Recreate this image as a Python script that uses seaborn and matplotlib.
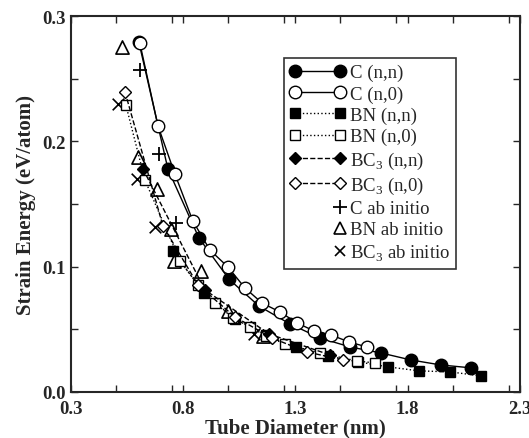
import numpy as np
import pandas as pd
import matplotlib
matplotlib.use("Agg")
import matplotlib.pyplot as plt
from matplotlib.lines import Line2D
from matplotlib.ticker import MultipleLocator
import seaborn as sns

# Werte
c_nn_d = [0.603, 0.732, 0.870, 1.004, 1.137, 1.275, 1.409, 1.543, 1.681, 1.814, 1.948, 2.082]
c_nn_e = [0.279, 0.178, 0.123, 0.090, 0.0686, 0.0543, 0.0431, 0.0359, 0.0311, 0.0255, 0.0215, 0.0192]

c_n0_d = [0.607, 0.688, 0.763, 0.843, 0.919, 0.999, 1.075, 1.151, 1.231, 1.307, 1.382, 1.458, 1.538, 1.618]
c_n0_e = [0.2785, 0.2123, 0.174, 0.1365, 0.1133, 0.0998, 0.083, 0.071, 0.0638, 0.0551, 0.0487, 0.0455, 0.0399, 0.0359]

bn_nn_d = [0.754, 0.892, 1.030, 1.169, 1.302, 1.445, 1.578, 1.712, 1.850, 1.988, 2.126]
bn_nn_e = [0.1125, 0.079, 0.0583, 0.0455, 0.0359, 0.0287, 0.0240, 0.020, 0.0168, 0.016, 0.0128]

bn_n0_d = [0.545, 0.630, 0.786, 0.866, 0.941, 1.022, 1.097, 1.169, 1.253, 1.409, 1.574, 1.654]
bn_n0_e = [0.229, 0.169, 0.1045, 0.0854, 0.071, 0.0591, 0.0519, 0.0447, 0.0383, 0.0311, 0.0247, 0.0231]

bc3_nn_d = [0.621, 0.897, 1.182, 1.454]
bc3_nn_e = [0.178, 0.0814, 0.0463, 0.0295]

bc3_n0_d = [0.541, 0.710, 0.866, 1.030, 1.195, 1.351, 1.512]
bc3_n0_e = [0.2394, 0.1325, 0.0854, 0.0599, 0.0431, 0.0319, 0.0255]

c_ai_d = [0.607, 0.692, 0.768]
c_ai_e = [0.257, 0.190, 0.135]

bn_ai_d = [0.527, 0.598, 0.683, 0.745, 0.759, 0.879, 0.999, 1.155]
bn_ai_e = [0.2753, 0.1875, 0.162, 0.130, 0.1045, 0.0966, 0.0646, 0.0447]

bc3_ai_d = [0.509, 0.594, 0.674, 1.115]
bc3_ai_e = [0.2298, 0.170, 0.1317, 0.0463]

sns.set_style("ticks")
plt.rcParams['font.family'] = ['Liberation Serif', 'DejaVu Serif']
plt.rcParams['mathtext.fontset'] = 'custom'
plt.rcParams['mathtext.rm'] = 'Liberation Serif'

fig = plt.figure(figsize=(5.29, 4.39), dpi=100)
ax = fig.add_axes([0.134, 0.105, 0.849, 0.856])

# Linien mit Markern
serien = [
    (c_nn_d, c_nn_e, 'o', 'black', '-', 9),
    (c_n0_d, c_n0_e, 'o', 'white', '-', 9),
    (bn_nn_d, bn_nn_e, 's', 'black', ':', 7),
    (bn_n0_d, bn_n0_e, 's', 'white', ':', 7),
    (bc3_nn_d, bc3_nn_e, 'D', 'black', '--', 6.5),
    (bc3_n0_d, bc3_n0_e, 'D', 'white', '--', 6.5),
]
for d, e, m, fc, ls, ms in serien:
    df = pd.DataFrame({'d': d, 'e': e})
    sns.lineplot(data=df, x='d', y='e', ax=ax, color='black', linestyle=ls,
                 linewidth=1.0, marker=m, markersize=ms, markerfacecolor=fc,
                 markeredgecolor='black', markeredgewidth=1.0, sort=False)

# ab initio Punkte
sns.scatterplot(x=c_ai_d, y=c_ai_e, ax=ax, marker='+', s=110, color='black', linewidth=1.3)
sns.scatterplot(x=bn_ai_d, y=bn_ai_e, ax=ax, marker='^', s=90, facecolor='white',
                edgecolor='black', linewidth=1.2)
sns.scatterplot(x=bc3_ai_d, y=bc3_ai_e, ax=ax, marker='x', s=70, color='black', linewidth=1.2)

ax.set_xlim(0.3, 2.3)
ax.set_ylim(0.0, 0.3)
ax.xaxis.set_minor_locator(MultipleLocator(0.25))
ax.yaxis.set_minor_locator(MultipleLocator(0.05))
ax.set_xticks([0.3, 0.8, 1.3, 1.8, 2.3])
ax.set_xticklabels(['0.3', '0.8', '1.3', '1.8', '2.3'])
ax.set_yticks([0.0, 0.1, 0.2, 0.3])
ax.set_yticklabels(['0.0', '0.1', '0.2', '0.3'])
ax.tick_params(which='both', direction='in', top=True, right=True, length=5, width=1)
ax.tick_params(axis='x', pad=6)
for lab in ax.get_xticklabels() + ax.get_yticklabels():
    lab.set_fontweight('bold')
    lab.set_fontsize(13.5)
for sp in ax.spines.values():
    sp.set_linewidth(1.5)

ax.set_xlabel('Tube Diameter (nm)', fontsize=15, fontweight='bold', labelpad=0)
ax.set_ylabel('Strain Energy (eV/atom)', fontsize=15, fontweight='bold', labelpad=5)

# Legende
handles = [
    Line2D([], [], color='black', ls='-', lw=1, marker='o', ms=9, mfc='black', mec='black'),
    Line2D([], [], color='black', ls='-', lw=1, marker='o', ms=9, mfc='white', mec='black'),
    Line2D([], [], color='black', ls=':', lw=1, marker='s', ms=7, mfc='black', mec='black'),
    Line2D([], [], color='black', ls=':', lw=1, marker='s', ms=7, mfc='white', mec='black'),
    Line2D([], [], color='black', ls='--', lw=1, marker='D', ms=6.5, mfc='black', mec='black'),
    Line2D([], [], color='black', ls='--', lw=1, marker='D', ms=6.5, mfc='white', mec='black'),
    Line2D([], [], ls='None', marker='+', ms=10, mew=1.3, color='black'),
    Line2D([], [], ls='None', marker='^', ms=9, mfc='white', mec='black', mew=1.2),
    Line2D([], [], ls='None', marker='x', ms=7, mew=1.2, color='black'),
]
labels = ['C (n,n)', 'C (n,0)', 'BN (n,n)', 'BN (n,0)', r'BC$_3$ (n,n)', r'BC$_3$ (n,0)',
          'C ab initio', 'BN ab initio', r'BC$_3$ ab initio']
leg = ax.legend(handles, labels, loc='upper left', bbox_to_anchor=(0.474, 0.888),
                borderaxespad=0, fontsize=13.5, numpoints=2, handlelength=3.0,
                handletextpad=0.25, labelspacing=0.22, borderpad=0.3,
                fancybox=False, frameon=True, edgecolor='black')
leg.get_frame().set_linewidth(1.2)
# ab initio: nur ein Marker rechts
for h in leg.legend_handles[6:]:
    h.set_markevery([1])

fig.savefig('out.png', dpi=100)
